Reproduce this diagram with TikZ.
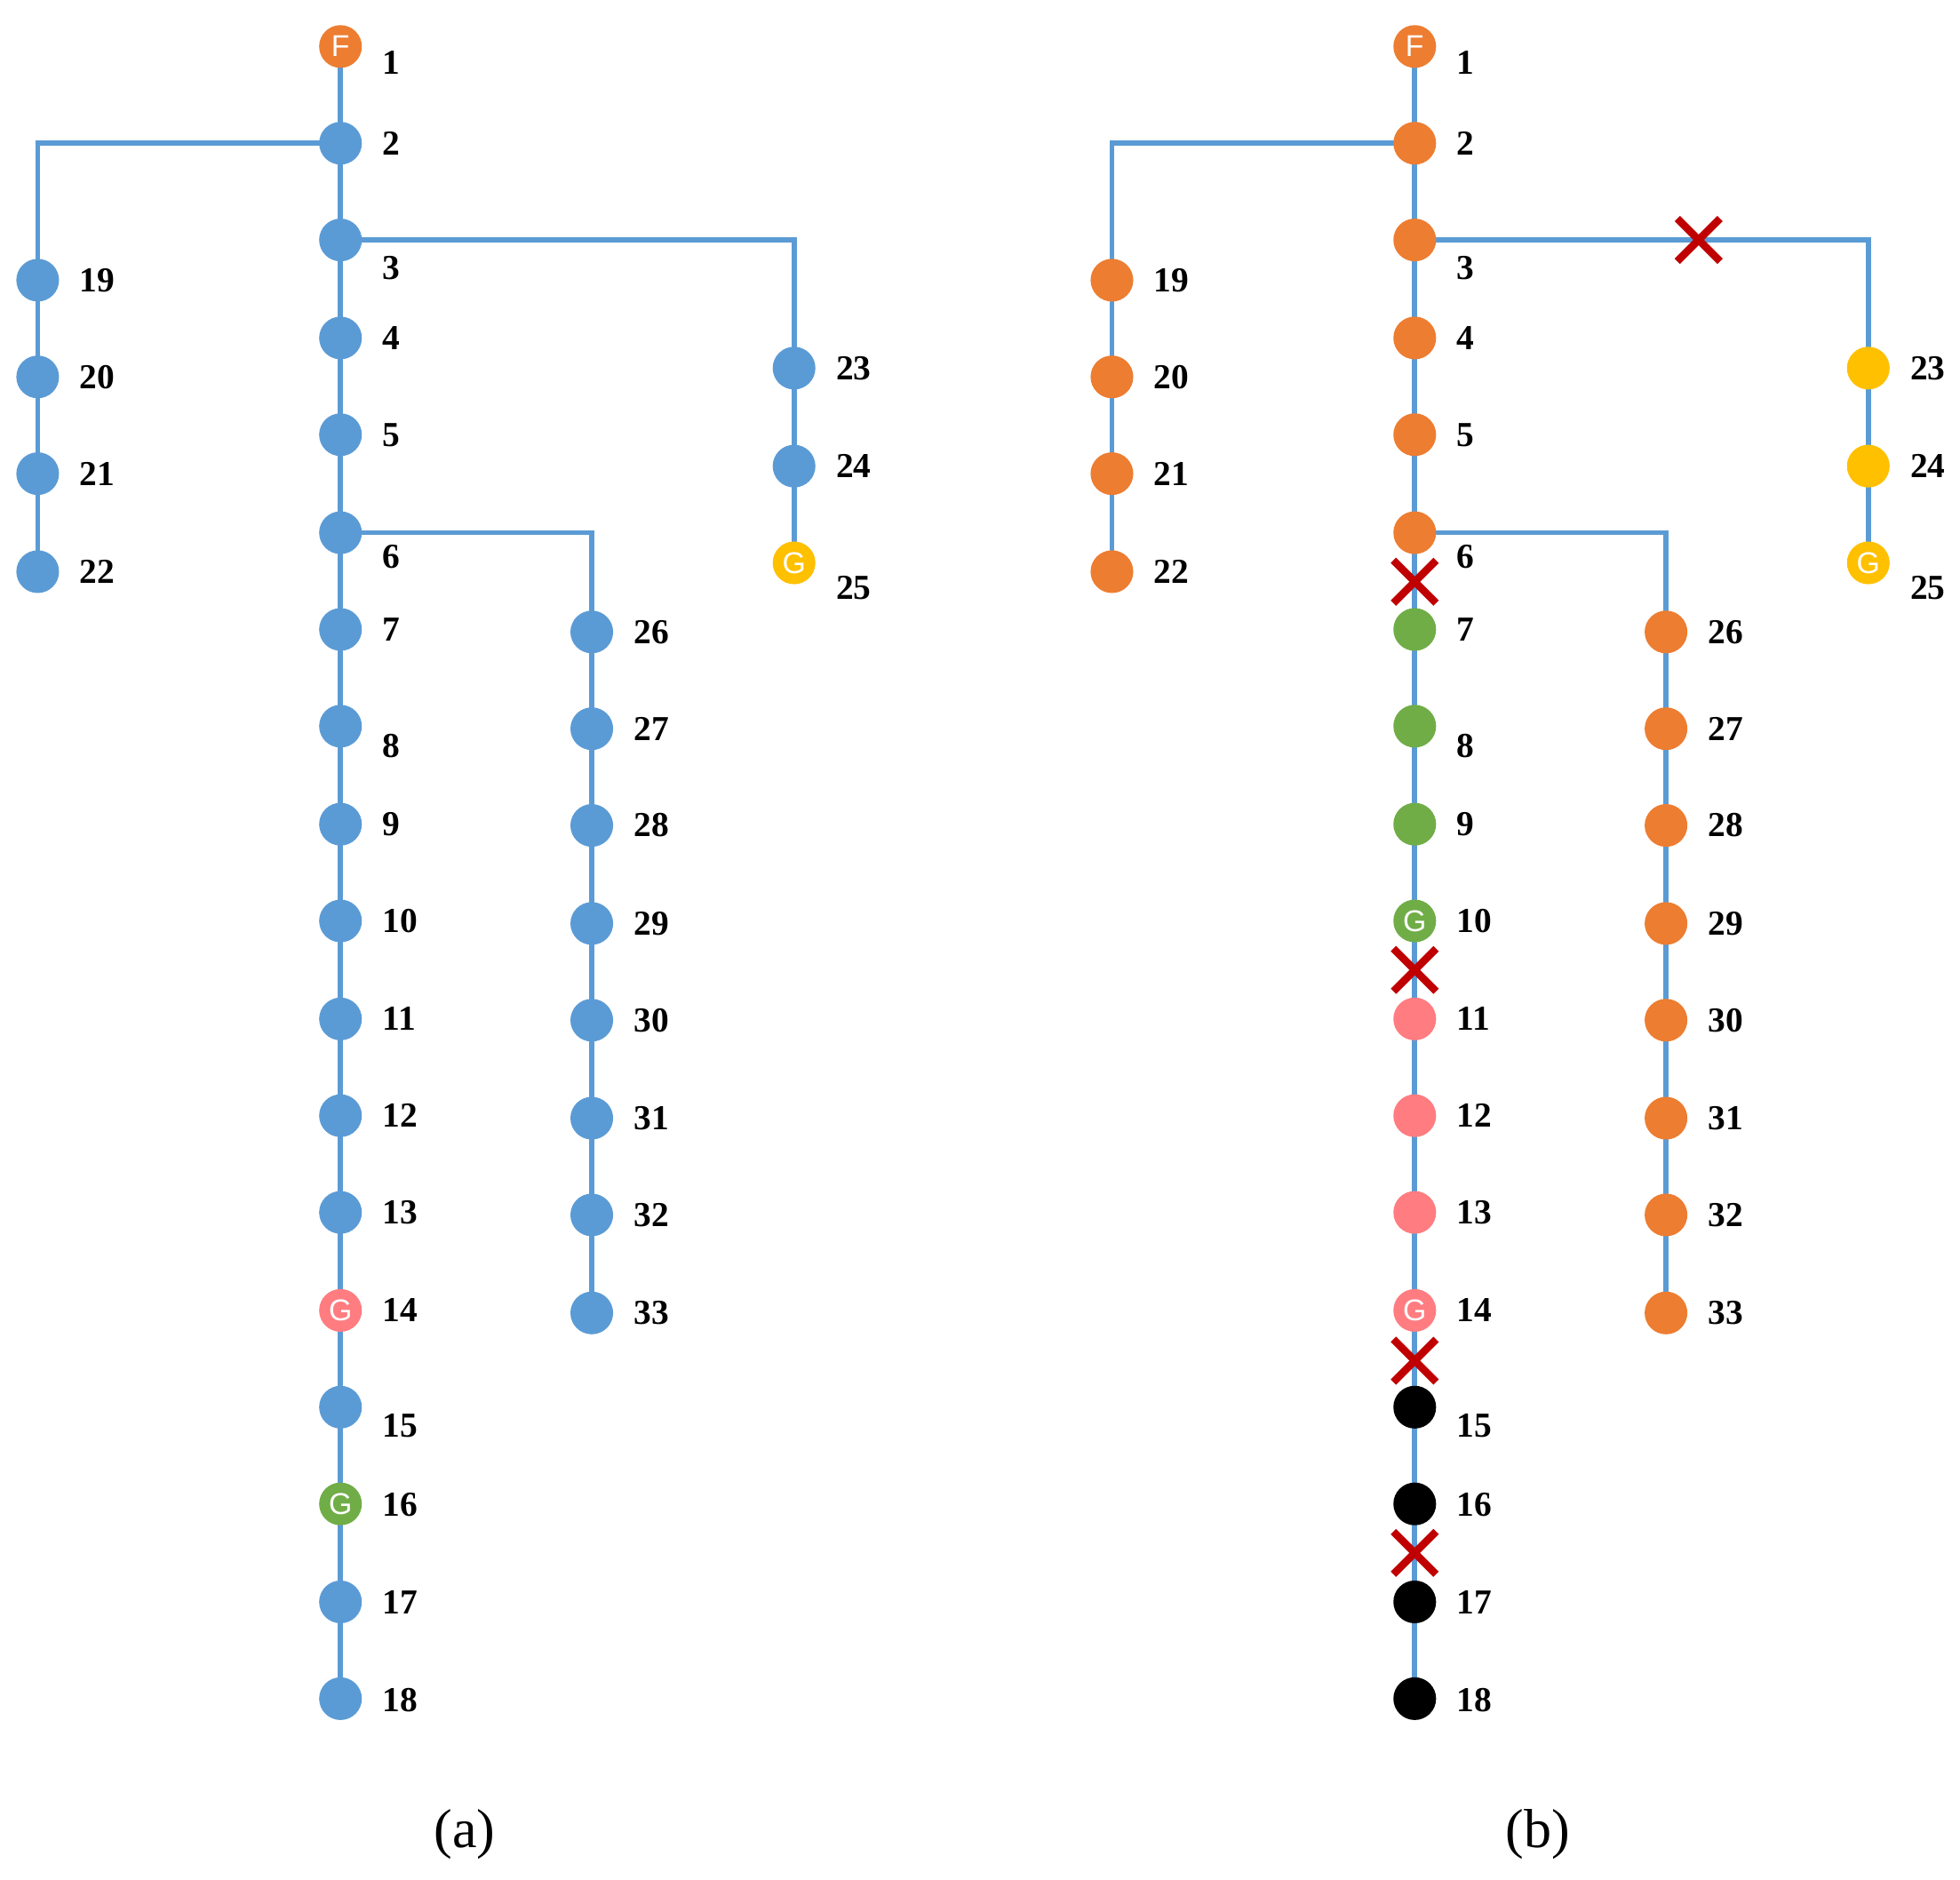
\documentclass[tikz,border=0pt]{standalone}
\usepackage{fontspec}
\setmainfont{Liberation Serif}
\newfontfamily\letterfont{Liberation Sans}
\usetikzlibrary{backgrounds}
\definecolor{cb}{HTML}{5B9BD5}
\definecolor{co}{HTML}{ED7D31}
\definecolor{cy}{HTML}{FFC000}
\definecolor{cg}{HTML}{70AD47}
\definecolor{cp}{HTML}{FF7C80}
\definecolor{ck}{HTML}{000000}
\definecolor{cr}{HTML}{C00000}
\begin{document}
\begin{tikzpicture}[x=1bp,y=-1bp,
  bus/.style={circle,inner sep=0pt,minimum size=34bp,text=white,font=\letterfont\fontsize{24}{24}\selectfont},
  lab/.style={anchor=west,font=\bfseries\fontsize{28}{28}\selectfont},
  edge/.style={draw=cb,line width=4bp},
  cut/.style={draw=cr,line width=6bp},
  figcap/.style={font=\fontsize{44}{44}\selectfont}]
\useasboundingbox (0,0) rectangle (1560,1496);
\foreach \n/\x/\y/\ly/\ca/\cc/\ta/\tb in {
 1/271/37/50/co/co/F/F, 2/271/114/114/cb/co/{}/{}, 3/271/191/213/cb/co/{}/{},
 4/271/269/269/cb/co/{}/{}, 5/271/346/346/cb/co/{}/{}, 6/271/424/443/cb/co/{}/{},
 7/271/501/501/cb/cg/{}/{}, 8/271/578/594/cb/cg/{}/{}, 9/271/656/656/cb/cg/{}/{},
 10/271/733/733/cb/cg/{}/G, 11/271/811/811/cb/cp/{}/{}, 12/271/888/888/cb/cp/{}/{},
 13/271/965/965/cb/cp/{}/{}, 14/271/1043/1043/cp/cp/G/G, 15/271/1120/1135/cb/ck/{}/{},
 16/271/1197/1198/cg/ck/G/{}, 17/271/1275/1275/cb/ck/{}/{}, 18/271/1352/1353/cb/ck/{}/{},
 19/30/223/223/cb/co/{}/{}, 20/30/300/300/cb/co/{}/{}, 21/30/377/377/cb/co/{}/{}, 22/30/455/455/cb/co/{}/{},
 23/632/293/293/cb/cy/{}/{}, 24/632/371/371/cb/cy/{}/{}, 25/632/448/468/cy/cy/G/G,
 26/471/503/503/cb/co/{}/{}, 27/471/580/580/cb/co/{}/{}, 28/471/657/657/cb/co/{}/{}, 29/471/735/735/cb/co/{}/{},
 30/471/812/812/cb/co/{}/{}, 31/471/890/890/cb/co/{}/{}, 32/471/967/967/cb/co/{}/{}, 33/471/1045/1045/cb/co/{}/{}}{
  \node[bus,fill=\ca] (a\n) at (\x,\y) {\ta};
  \node[lab] (la\n) at (\x+30,\ly) {\n};
  \node[bus,fill=\cc] (b\n) at (\x+855,\y) {\tb};
  \node[lab] (lb\n) at (\x+885,\ly) {\n};
}
\begin{scope}[on background layer]
\foreach \t in {a,b}{
  \foreach \i [evaluate=\i as \j using int(\i+1)] in {1,...,17,19,20,21,23,24,26,27,...,32}
    \draw[edge] (\t\i.center) -- (\t\j.center);
  \draw[edge] (\t2.center) -| (\t19.center);
  \draw[edge] (\t3.center) -| (\t23.center);
  \draw[edge] (\t6.center) -| (\t26.center);
}
\end{scope}
\foreach \cx/\cy [count=\k] in {1352/191,1126/463,1126/772,1126/1083,1126/1236}{
  \coordinate (x\k) at (\cx,\cy);
  \draw[cut] ([shift={(-17,-17)}]x\k) -- ([shift={(17,17)}]x\k);
  \draw[cut] ([shift={(-17,17)}]x\k) -- ([shift={(17,-17)}]x\k);
}
\node[figcap] (capa) at (370,1460) {(a)};
\node[figcap] (capb) at (1224,1460) {(b)};
\end{tikzpicture}
\end{document}
